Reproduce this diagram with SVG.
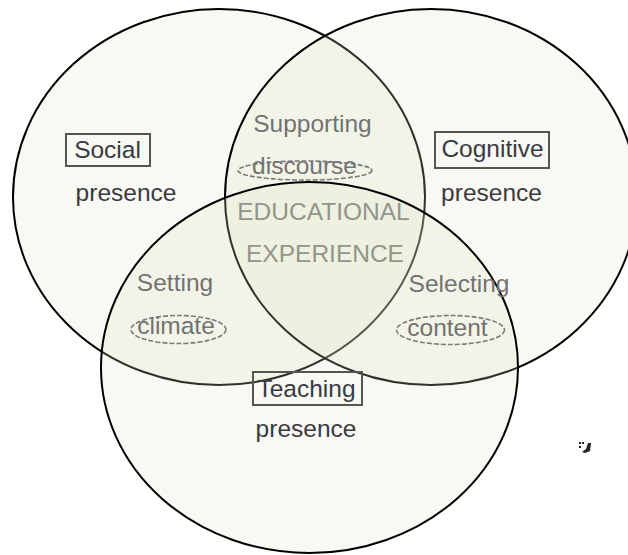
<svg xmlns="http://www.w3.org/2000/svg" width="628" height="555" viewBox="0 0 628 555">
<style>
.set{fill:#dde2c4;fill-opacity:0.22;stroke:#000;stroke-width:2}
text{font-family:"Liberation Sans",Arial,sans-serif;font-size:24.5px;text-anchor:middle}
.lab{fill:#3a3a44}
.act{fill:#727272}
.core{fill:#92958a}
.box{fill:none;stroke:#555;stroke-width:2}
.oval{fill:none;stroke:#7a7a7a;stroke-width:1.6;stroke-dasharray:5 2}
</style>
<rect width="628" height="555" fill="#fff"/>
<g id="circles">
<ellipse id="social-circle" class="set" cx="219" cy="197" rx="206" ry="188"/>
<ellipse id="cognitive-circle" class="set" cx="431" cy="197" rx="206" ry="188"/>
<ellipse id="teaching-circle" class="set" cx="309.5" cy="367.5" rx="208.5" ry="185.5"/>
</g>
<g id="social-presence">
<rect class="box" x="66" y="134" width="84" height="32"/>
<text class="lab" x="107.5" y="158">Social</text>
<text class="lab" x="126" y="201">presence</text>
</g>
<g id="cognitive-presence">
<rect class="box" x="435" y="132" width="114" height="36"/>
<text class="lab" x="492.5" y="157">Cognitive</text>
<text class="lab" x="491.5" y="201">presence</text>
</g>
<g id="teaching-presence">
<rect class="box" x="253" y="372" width="109" height="33"/>
<text class="lab" x="306.5" y="397">Teaching</text>
<text class="lab" x="306" y="437">presence</text>
</g>
<g id="supporting-discourse">
<text class="act" x="312.5" y="132">Supporting</text>
<ellipse class="oval" cx="305" cy="170.5" rx="67" ry="9.5"/>
<text class="act" x="304.5" y="174">discourse</text>
</g>
<g id="setting-climate">
<text class="act" x="175" y="291">Setting</text>
<ellipse class="oval" cx="178.5" cy="329.5" rx="47.5" ry="14"/>
<text class="act" x="176" y="334">climate</text>
</g>
<g id="selecting-content">
<text class="act" x="459" y="292">Selecting</text>
<ellipse class="oval" cx="450.5" cy="330" rx="54" ry="14.5"/>
<text class="act" x="447.5" y="336">content</text>
</g>
<g id="educational-experience">
<text class="core" x="323.5" y="220">EDUCATIONAL</text>
<text class="core" x="325" y="262">EXPERIENCE</text>
</g>
<g id="mark" fill="#222">
<rect x="579" y="442" width="2" height="2"/>
<rect x="582" y="442" width="2" height="2"/>
<rect x="579" y="446" width="2" height="2"/>
<path d="M588 443 L591 443 L590 451 L585 453 L582 452 L586 449 Z"/>
</g>
</svg>
